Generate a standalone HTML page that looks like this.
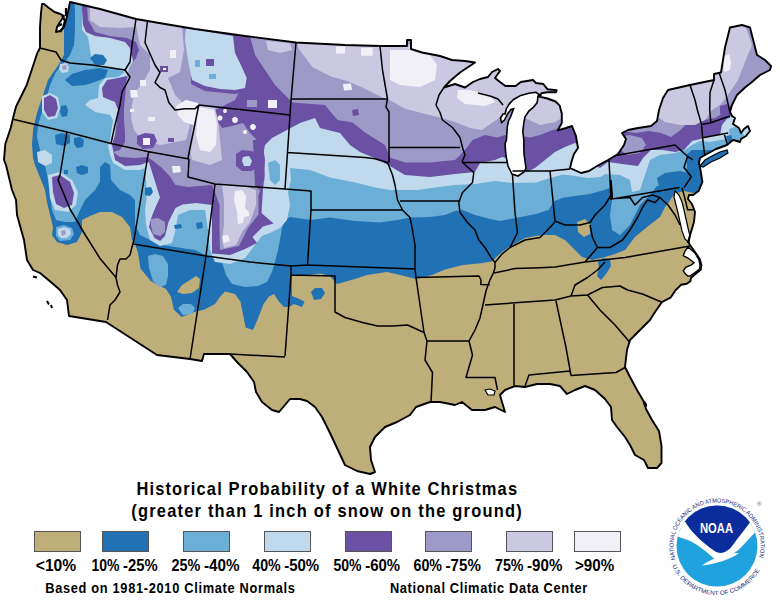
<!DOCTYPE html>
<html><head><meta charset="utf-8"><title>White Christmas</title>
<style>
html,body{margin:0;padding:0;background:#fff;}
body{width:780px;height:600px;overflow:hidden;}
svg{display:block;}
text{font-family:"Liberation Sans",Arial,sans-serif;font-weight:bold;fill:#000;}
.t1{font-size:17.7px;}
.lg{font-size:16.2px;}
.ft{font-size:13.8px;}
.noaa{font-size:14px;fill:#fff;font-family:"Liberation Sans",sans-serif;}
.ring{font-size:6px;fill:#1a2a80;font-weight:normal;}
.reg{font-size:6px;fill:#555;font-weight:normal;}
</style></head>
<body>
<svg width="780" height="600" viewBox="0 0 780 600">
<rect width="780" height="600" fill="#fff"/>
<clipPath id="us"><path d="M42,4 L44,4 L49,8 L54.5,12 L60.5,14 L64,16 L60,22 L57,27 L56,32 L60,31 L64,27 L66,20 L68,12 L70,2 L100,9 L136,19 L165,24 L195,29 L245,36 L296,42.5 L345,45 L380,46 L407,46 L407,40 L411,40 L411,49 L422,52.5 L440,56 L452,60 L465,61 L475,62.5 L460,72.5 L450,81 L444,87.5 L455,84 L465,87.5 L473,82 L480,79 L488,77 L492,72 L498,69 L500,71 L495,78 L500,82 L505.4,86 L515.6,86 L520.8,82 L533,80 L536,83 L543.3,84 L547.4,89.2 L556.7,90.3 L556,92.3 L547.4,92.3 L541.3,93.3 L540.3,95.4 L538.2,96.4 L547.4,98.5 L555.6,101.5 L559.7,105.6 L561.8,113.8 L561.8,123 L557.7,130.3 L566,128 L572,126 L576,136 L578,148 L574,154 L572,160 L570,168 L581,173 L589,171 L597,166 L608,160 L618,154 L624,145 L626,139 L622,133 L628,130 L638,128 L651,126 L657,121 L659,110 L663,98 L668,90 L690,85 L714,80 L714,74 L721,72.5 L725,47.5 L730,27.5 L742,25 L750,27.5 L757,55 L765,60 L771,66 L770,70 L760,75 L752,82 L745,87.5 L737,95 L732,105 L730,112 L732,116 L735,118 L733,124 L739,128 L741,133 L744,129 L748,126 L750,131 L746,136 L741,139 L740,142 L737,141 L733,140 L727,145 L716,149 L705,155 L700,158 L699,163 L700.5,170 L702.4,182 L698.7,191 L693,195 L689,195 L688,199 L692,204 L695,212 L694,222 L691,232 L688,242 L690,245 L695,252 L699.7,259 L701.4,265 L700.8,269.7 L695,274.3 L691,278 L690.3,281.3 L686.8,283.7 L681,284.8 L675.2,290.7 L670.5,297.7 L662,302 L655,312 L650,320 L640,330 L630,340 L627,350 L625,367 L630,377 L637,390 L644,402 L646,409 L652,420 L659,431 L661.5,446 L661.5,463 L657,468 L648,468 L644,460 L635,455 L630,445 L625,437 L617,427 L612,420 L611,407 L605,399 L595,390 L585,386 L575,390 L567,394 L560,386 L550,384 L537,384 L525,387 L515,386 L505,390 L500,395 L502,402 L505,412 L495,407 L485,410 L472,410 L462,402 L455,405 L440,402 L430,402 L416,407 L410,415 L397,422 L385,427 L375,437 L370,447 L371,460 L375,472 L370,474 L357,471 L345,465 L337,448 L330,433 L322,417 L315,407 L307,401 L300,399 L290,399 L285,405 L279,412 L272,410 L262,402 L256,392 L254,382 L247,372 L237,362 L230,354 L204,354 L202,361 L190,359 L157,355 L106,322 L69,316 L67,300 L60,290 L52,283 L40,273 L33,270 L27,260 L24,240 L17,215 L16,200 L12,190 L6,165 L4,160 L5.3,144 L10.7,128 L13.3,117 L16,106.7 L21.3,96 L26.7,85 L32,69 L37.3,53 L40,48 L40,26.7 L41,13Z"/></clipPath>
<path d="M42,4 L44,4 L49,8 L54.5,12 L60.5,14 L64,16 L60,22 L57,27 L56,32 L60,31 L64,27 L66,20 L68,12 L70,2 L100,9 L136,19 L165,24 L195,29 L245,36 L296,42.5 L345,45 L380,46 L407,46 L407,40 L411,40 L411,49 L422,52.5 L440,56 L452,60 L465,61 L475,62.5 L460,72.5 L450,81 L444,87.5 L455,84 L465,87.5 L473,82 L480,79 L488,77 L492,72 L498,69 L500,71 L495,78 L500,82 L505.4,86 L515.6,86 L520.8,82 L533,80 L536,83 L543.3,84 L547.4,89.2 L556.7,90.3 L556,92.3 L547.4,92.3 L541.3,93.3 L540.3,95.4 L538.2,96.4 L547.4,98.5 L555.6,101.5 L559.7,105.6 L561.8,113.8 L561.8,123 L557.7,130.3 L566,128 L572,126 L576,136 L578,148 L574,154 L572,160 L570,168 L581,173 L589,171 L597,166 L608,160 L618,154 L624,145 L626,139 L622,133 L628,130 L638,128 L651,126 L657,121 L659,110 L663,98 L668,90 L690,85 L714,80 L714,74 L721,72.5 L725,47.5 L730,27.5 L742,25 L750,27.5 L757,55 L765,60 L771,66 L770,70 L760,75 L752,82 L745,87.5 L737,95 L732,105 L730,112 L732,116 L735,118 L733,124 L739,128 L741,133 L744,129 L748,126 L750,131 L746,136 L741,139 L740,142 L737,141 L733,140 L727,145 L716,149 L705,155 L700,158 L699,163 L700.5,170 L702.4,182 L698.7,191 L693,195 L689,195 L688,199 L692,204 L695,212 L694,222 L691,232 L688,242 L690,245 L695,252 L699.7,259 L701.4,265 L700.8,269.7 L695,274.3 L691,278 L690.3,281.3 L686.8,283.7 L681,284.8 L675.2,290.7 L670.5,297.7 L662,302 L655,312 L650,320 L640,330 L630,340 L627,350 L625,367 L630,377 L637,390 L644,402 L646,409 L652,420 L659,431 L661.5,446 L661.5,463 L657,468 L648,468 L644,460 L635,455 L630,445 L625,437 L617,427 L612,420 L611,407 L605,399 L595,390 L585,386 L575,390 L567,394 L560,386 L550,384 L537,384 L525,387 L515,386 L505,390 L500,395 L502,402 L505,412 L495,407 L485,410 L472,410 L462,402 L455,405 L440,402 L430,402 L416,407 L410,415 L397,422 L385,427 L375,437 L370,447 L371,460 L375,472 L370,474 L357,471 L345,465 L337,448 L330,433 L322,417 L315,407 L307,401 L300,399 L290,399 L285,405 L279,412 L272,410 L262,402 L256,392 L254,382 L247,372 L237,362 L230,354 L204,354 L202,361 L190,359 L157,355 L106,322 L69,316 L67,300 L60,290 L52,283 L40,273 L33,270 L27,260 L24,240 L17,215 L16,200 L12,190 L6,165 L4,160 L5.3,144 L10.7,128 L13.3,117 L16,106.7 L21.3,96 L26.7,85 L32,69 L37.3,53 L40,48 L40,26.7 L41,13Z" fill="#BEAE7A"/>
<g clip-path="url(#us)">
<path d="M62,0 L64,10 L64,25 L64,40 L64,55 L59,64 L48,80 L42.7,96 L37.3,112 L33.3,128 L32,144 L33,158 L35,165 L45,190 L47,202 L50,215 L53,227 L52,235 L57,242 L67,245 L77,242 L82,232 L82,220 L90,216 L100,212 L112,212 L122,217 L130,227 L132,240 L135,244 L138,253 L140.5,268.5 L150.8,281 L166,289 L171,296.7 L173.8,309.5 L181.5,317 L194.4,312 L204.6,309.5 L215,304 L220,296.7 L225,291.5 L235,294 L240.5,301.8 L243,314.6 L245.6,327.4 L253,330 L258.5,317 L263.6,304 L268.7,296.7 L274,294 L279,301.8 L284,307 L289,307 L294,304 L302,307 L304.6,301.8 L299.5,299 L292,296 L291.8,276 L299.5,276 L320,273.6 L330,276 L337,284 L355,279 L367,275 L387,272 L400,275 L416,279 L432,275 L445,269.5 L462.8,265 L480.8,263.2 L491.6,261.4 L500.5,253.3 L507.7,248 L516.7,242.6 L525,238 L535,236 L545,235 L555,235 L565,240 L572,247 L582,257 L592,260 L605,257 L615,254 L625,250 L635,237 L647,227 L660,217 L665,207 L669,202 L672,197 L677,193 L684,191 L693,193 L700,192 L780,192 L780,0Z" fill="#2171B5"/>
<path d="M74,0 L75,10 L75,30 L74,45 L70,55 L64,63 L56,72 L50,85 L46,100 L42,112 L38,125 L37,137 L40,150 L45,165 L48,180 L50,195 L52,210 L56,220 L65,222 L75,222 L80,210 L85,200 L95,190 L100,182 L100,167 L105,162 L110,165 L111,180 L120,190 L130,195 L135,200 L135,225 L140,235 L150,240 L162,245 L175,247 L195,250 L205,255 L212,258 L222,262 L226,275 L232,284 L245,287 L258,286 L267,282 L272,272 L275,262 L278,250 L280,240 L282,228 L285,220 L290,217 L311,220 L330,217.5 L355,221 L380,222.5 L397.5,220 L410,217.5 L430,217 L445,215 L455,211 L462.5,210 L475,215 L490,219 L500,221 L518,217.5 L536,214 L548.5,210 L554,201.3 L563,197.7 L575.4,196 L589.8,194 L602.3,190.5 L610,188 L612,200 L610,215 L612,230 L620,235 L630,225 L640,205 L650,195 L657,186 L675,183 L686,180 L687,165 L686,155 L692,150 L780,150 L780,0Z" fill="#6BAED6"/>
<path d="M82,0 L82,30 L88,37 L90,50 L92,62 L100,66 L115,68 L125,72 L118,77 L105,78 L99,85 L98,98 L90,100 L85,105 L95,112 L110,115 L113,120 L110,140 L108,146 L110,155 L113,163 L125,170 L140,170 L145,168 L146,180 L147,195 L145,210 L146,225 L150,240 L160,246 L172,243 L175,232 L178,215 L190,210 L205,210 L208,230 L210,250 L215,262 L230,264 L245,258 L255,245 L262,236 L272,232 L280,228 L287,220 L290,205 L288,192 L291,180 L290,168 L310,170 L330,177.5 L355,182.5 L375,187.5 L390,190 L417.5,190 L435,187.5 L455,185 L475,184 L495,181 L512.5,183 L536,182.4 L550,178 L563,174.4 L575,176 L588,178 L600.5,177 L605,174 L620,175 L630,180 L632,192 L640,190 L645,175 L650,160 L660,155 L675,153 L685,150 L692,145 L700,141 L710,142 L720,140 L735,138 L780,135 L780,0Z" fill="#C0D9EC"/>
<path d="M82,0 L780,0 L780,100 L735,105 L730,115 L722,125 L720,135 L710,136 L700,139 L692,141 L684,150 L675,152 L663,150 L651,150 L643,158 L638,166 L622,164 L608,162 L600,168 L585,160 L578,145 L575,143 L565,147 L555,152 L545,160 L535,168 L527,172 L515,160 L502,157 L495,160 L480,163 L475,172 L455,174 L430,177 L405,175 L388,165 L372,157 L360,152 L350,145 L340,133 L320,128 L315,118 L300,123 L287,130 L272,138 L265,145 L262,160 L265,175 L263,188 L261.5,213 L273.5,223.5 L263,226.5 L252.5,237 L257,243 L245,249 L230,255 L212,253.5 L212,230 L212,205 L196.5,203 L182.5,204.5 L175.5,208 L172,215 L168.5,222 L165,236 L160,241 L154.5,238 L149,227 L151,218.5 L156,206 L160,197.5 L154.5,180 L149,162.5 L148,162 L140,165 L125,166 L115,160 L112,145 L115,135 L117,120 L118,110 L115,102 L110,100 L103,97 L102,88 L107,80 L118,78 L127,76 L132,70 L133,60 L130,48 L125,42 L110,38 L95,36 L86,32 L83,25 L82,10Z" fill="#6A51A3"/>
<path d="M87,5 L88,20 L95,32 L110,36 L127,38 L136,42 L139,50 L136,58 L130,66 L127,76 L126,86 L125,98 L124,108 L124,120 L125,132 L125,142 L120,150 L113,152 L120,157 L135,158 L147,157 L152,160 L162,168 L170,176.5 L175.5,185 L188,187 L212,185 L216,195 L219.5,205 L219.5,230 L220,250 L239,246 L248,228 L258.5,214.5 L258.5,195 L262,185 L265,178 L263,160 L262,145 L256,139 L250,133 L243,123 L232,126 L222,128 L215,118 L215,110 L225,105 L235,100 L240,90 L243,70 L236,50 L233,35 L225,32 L200,28 L165,22 L136,17 L110,10Z" fill="#9E9AC8"/>
<path d="M250,36 L255,55 L265,70 L275,85 L285,95 L292.5,102.5 L325,105 L337.5,120 L352.5,122.5 L365,132.5 L385,145 L390,157.5 L405,162.5 L430,162.5 L455,160 L465,150 L472.5,140 L485,135 L497.5,137.5 L505,135 L515,135 L530,137.5 L540,135 L552.5,130 L565,127.5 L575,125 L600,125 L622,131 L636,133 L648.7,131 L661,133 L671,137 L679.5,131 L687.7,122.8 L700,120.8 L715,118 L725,112 L735,100 L750,88 L780,80 L780,0 L250,0Z" fill="#9E9AC8"/>
<path d="M618,137 L630,135 L642,138 L646,145 L640,153 L628,155 L620,150Z" fill="#9E9AC8"/>
<path d="M90,7 L90,20 L100,27 L120,28 L135,27 L136,19 L110,10Z" fill="#CBC9E2"/>
<path d="M135,20 L182,26 L184,50 L180,72 L168,78 L175,95 L185,105 L190,125 L186,140 L160,145 L142,140 L134,130 L131,118 L132,105 L135,92 L142,84 L150,70 L150,55 L140,45Z" fill="#CBC9E2"/>
<path d="M190,150 L192,160 L210,165 L222,160 L220,140 L218,120 L215,108 L199,105 L195,115 L192,130Z" fill="#CBC9E2"/>
<path d="M222,185 L224,200 L224,225 L222,240 L224,248 L236,245 L242,232 L250,222 L256,205 L256,190 L240,185Z" fill="#CBC9E2"/>
<path d="M296,40 L298.8,48.8 L312.7,67.3 L331,76.5 L347.3,81 L363.5,88 L382,97.3 L388.8,99.6 L405,108.8 L423.5,113.5 L442,118 L455,122 L470,128 L482,130 L493,122 L501,117 L512,108 L525,118 L540,125 L555,122 L562,118 L565,100 L560,80 L480,62 L475,50 L420,45Z" fill="#CBC9E2"/>
<path d="M657,100 L655,115 L665,122 L680,125 L695,125 L705,120 L712,110 L720,105 L728,95 L738,80 L745,62 L752,45 L745,25 L730,25 L715,75 L690,85 L668,90Z" fill="#CBC9E2"/>
<path d="M199,107 L214,110 L217,125 L216,145 L210,152 L200,150 L196,135 L197,118Z" fill="#F2F0F7"/>
<path d="M235,191 L242,190 L246,196 L245,208 L249,212 L249,216 L244,217 L243,223 L238,224 L237,212 L234,200Z" fill="#F2F0F7"/>
<path d="M222,236 L228,235 L230,241 L224,243Z" fill="#F2F0F7"/>
<path d="M390,50 L410,50 L430,55 L437,65 L435,80 L420,87 L400,85 L390,80Z" fill="#F2F0F7"/>
<path d="M458,90 L470,90 L490,95 L495,102 L485,106 L465,104 L457,98Z" fill="#F2F0F7"/>
<path d="M723,57 L729,54 L731,62 L730,70 L724,72Z" fill="#F2F0F7"/>
<path d="M336,46.5 L345,46.5 L345,53.5 L336,53.5Z" fill="#F2F0F7"/>
<path d="M361,47.7 L372.7,47.7 L372.7,55.8 L361,55.8Z" fill="#F2F0F7"/>
<path d="M343,84 L351,83.5 L352,90 L344,90.4Z" fill="#F2F0F7"/>
<path d="M65,80 L72,74 L85,70 L100,68 L108,70 L105,78 L95,82 L85,85 L72,86Z" fill="#2171B5"/>
<path d="M90,58 L95,54 L103,55 L107,60 L104,65 L95,65Z" fill="#2171B5"/>
<path d="M148,256 L155,254 L163,256 L168,264 L168,276 L166,285 L160,287 L153,281 L149,268Z" fill="#6BAED6"/>
<path d="M37,152 L45,150 L52,155 L52,163 L45,166 L38,162Z" fill="#C0D9EC"/>
<path d="M48,175 L60,172 L72,180 L78,192 L76,205 L68,212 L55,210 L50,198Z" fill="#C0D9EC"/>
<path d="M52,177 L60,175 L70,182 L74,193 L72,205 L64,208 L56,204 L53,192Z" fill="#6A51A3"/>
<path d="M42,96 L50,93 L58,97 L60,108 L57,118 L48,120 L42,112Z" fill="#C0D9EC"/>
<path d="M44,98 L50,95 L56,99 L58,108 L55,116 L48,117 L44,110Z" fill="#6A51A3"/>
<path d="M56,227 L64,225 L72,228 L74,234 L70,240 L60,241 L56,236Z" fill="#6BAED6"/>
<path d="M58,229 L64,227 L70,229 L71,234 L67,238 L61,238 L58,235Z" fill="#C0D9EC"/>
<path d="M61,231 L65,230 L66,234 L62,236Z" fill="#9E9AC8"/>
<path d="M180,28 L191,28 L191,84 L205,91 L235,94 L249,91 L250,76 L244,62 L238,50 L237,35Z" fill="#6A51A3"/>
<path d="M186,28 L233,36 L235,53 L241.7,66.7 L246.7,78 L245,88 L235,90 L220,89 L205,86 L192,80 L188,60 L185,40Z" fill="#C0D9EC"/>
<path d="M577,222 L585,219 L590,224 L590,234 L584,237 L578,232Z" fill="#BEAE7A"/>
<path d="M177,292 L182,285 L190,280 L196,276 L200,279 L199,288 L192,293 L183,294Z" fill="#BEAE7A"/>
<path d="M178,308 L183,304 L191,304 L195,308 L192,314 L183,315Z" fill="#6BAED6"/>
<path d="M311,292 L315,288 L322,288 L325,293 L321,299 L314,300Z" fill="#2171B5"/>
<path d="M268,163 L275,160 L280,165 L280,180 L275,185 L270,180Z" fill="#6BAED6"/>
<path d="M352,110 L358,109 L359,115 L353,116Z" fill="#6A51A3"/>
<path d="M266,41 L290,43 L292,50 L280,53 L268,50Z" fill="#CBC9E2"/>
<path d="M729,129 L735,127 L742,131 L744,136 L738,140 L730,138Z" fill="#6BAED6"/>
<path d="M726,136 L731,135 L733,141 L728,143Z" fill="#2171B5"/>
<path d="M720,106 L727,104 L731,110 L730,118 L724,119 L720,113Z" fill="#6A51A3"/>
<path d="M61,106 L66,105 L68,110 L67,116 L62,117 L60,112Z" fill="#2171B5"/>
<path d="M60,64 L66,63 L69,67 L68,72 L62,73 L59,69Z" fill="#C0D9EC"/>
<path d="M62,66 L66,65 L67,69 L63,70Z" fill="#9E9AC8"/>
<path d="M76,167 L82,165 L88,167 L88,173 L82,175 L77,173Z" fill="#2171B5"/>
<path d="M64,170 L68,170 L68,174 L64,174Z" fill="#2171B5"/>
<path d="M55,135 L62,133 L70,135 L70,143 L64,146 L56,144Z" fill="#2171B5"/>
<path d="M74,138 L80,137 L84,140 L83,147 L77,148 L74,144Z" fill="#2171B5"/>
<path d="M151,219 L158,218 L165,222 L165,232 L160,236 L153,234 L151,226Z" fill="#9E9AC8"/>
<path d="M145,188 L151,187 L153,192 L150,196 L145,195Z" fill="#2171B5"/>
<path d="M174,225 L181,224 L182,228 L175,229Z" fill="#2171B5"/>
<path d="M196,223 L202,222 L203,228 L197,229Z" fill="#2171B5"/>
<path d="M172,166 L180,166 L181,172 L173,173Z" fill="#F2F0F7"/>
<path d="M253,140 L262,139 L265,160 L264,180 L260,190 L255,186 L254,165Z" fill="#6A51A3"/>
<path d="M222.5,118 L222,119.5 L220.8,120.4 L219.2,120.4 L218,119.5 L217.5,118 L218,116.5 L219.2,115.6 L220.8,115.6 L222,116.5Z" fill="#F2F0F7"/>
<path d="M238,120 L237.4,121.8 L235.9,122.9 L234.1,122.9 L232.6,121.8 L232,120 L232.6,118.2 L234.1,117.1 L235.9,117.1 L237.4,118.2Z" fill="#F2F0F7"/>
<path d="M256,127 L255.4,128.8 L253.9,129.9 L252.1,129.9 L250.6,128.8 L250,127 L250.6,125.2 L252.1,124.1 L253.9,124.1 L255.4,125.2Z" fill="#F2F0F7"/>
<path d="M247,132 L246.6,133.2 L245.6,133.9 L244.4,133.9 L243.4,133.2 L243,132 L243.4,130.8 L244.4,130.1 L245.6,130.1 L246.6,130.8Z" fill="#F2F0F7"/>
<path d="M227,111 L226.6,112.2 L225.6,112.9 L224.4,112.9 L223.4,112.2 L223,111 L223.4,109.8 L224.4,109.1 L225.6,109.1 L226.6,109.8Z" fill="#F2F0F7"/>
<path d="M268,100 L277,100 L277,108 L268,108Z" fill="#F2F0F7"/>
<path d="M247,100 L257,100 L257,107 L247,107Z" fill="#9E9AC8"/>
<path d="M176,106 L186,100 L198,103 L199,118 L193,125 L184,122 L178,115Z" fill="#F2F0F7"/>
<path d="M130,90 L137,90 L138,97 L131,98Z" fill="#F2F0F7"/>
<path d="M140,80 L146,80 L146,86 L140,86Z" fill="#F2F0F7"/>
<path d="M148,117 L155,117 L155,121 L148,121Z" fill="#F2F0F7"/>
<path d="M130,109 L134,109 L134,112 L130,112Z" fill="#F2F0F7"/>
<path d="M170,50 L176,50 L176,58 L170,58Z" fill="#F2F0F7"/>
<path d="M137,136 L145,133 L154,134 L157,141 L153,148 L143,149 L137,144Z" fill="#6A51A3"/>
<path d="M143,138 L150,138 L150,145 L143,145Z" fill="#F2F0F7"/>
<path d="M168,138 L174,138 L174,142 L168,142Z" fill="#6A51A3"/>
<path d="M160,66 L168,66 L168,72 L160,72Z" fill="#6A51A3"/>
<path d="M163,68 L166,68 L166,70 L163,70Z" fill="#F2F0F7"/>
<path d="M657,178 L665,173 L680,171 L688,173 L688,188 L675,190 L660,190Z" fill="#2171B5"/>
<path d="M195,60 L200,60 L200,67 L195,67Z" fill="#6BAED6"/>
<path d="M206,59 L214,59 L214,66 L206,66Z" fill="#6A51A3"/>
<path d="M209,74 L216,74 L216,79 L209,79Z" fill="#6BAED6"/>
<path d="M236,154 L242,150 L252,151 L258,157 L258,166 L252,171 L242,171 L236,166Z" fill="#6A51A3"/>
<path d="M243,157 L249,156 L252,161 L250,166 L244,166 L242,161Z" fill="#C0D9EC"/>
<path d="M598,262 L603,258 L610,259 L611,266 L606,274 L601,280 L597,276 L599,268Z" fill="#2171B5"/>
<path d="M308,262 L311,262 L311,268 L308,268Z" fill="#2171B5"/>
</g>
<path d="M62,15 L65,21 L63,28 L60,32 M66,8 L66,16 M58,26 L62,24" fill="none" stroke="#000" stroke-width="2.2"/>
<path d="M675,191 L679,195 L682,202 L684,210 L686,219 L688,228 L690,236 L689,243 L685,239 L682,231 L680,222 L678,213 L676,205 L674,197Z" fill="#fff" stroke="#000" stroke-width="1.2"/>
<path d="M700,166 L705,160 L712,156 L720,152 L727,150 L728,153 L720,158 L711,162 L703,167Z" fill="#2171B5" stroke="#000" stroke-width="1.2"/>
<path d="M505,114 L506.4,108.7 L509.5,103.6 L513.6,99.5 L520.8,95.4 L529,93.3 L536,92.3 L540.3,95.4 L538,96.4 L537.2,102.6 L533,107.7 L529,110.8 L524.9,117 L523.8,123 L522.8,131.3 L523.8,140 L524,154 L526,168 L524,172 L518,176 L512,174 L508,166 L506,156 L505,144 L506.4,140 L507.4,126 L508.5,121 L510.5,117 L513.6,108.7 L511,109.5 L507.5,114 L504.5,120 L501.5,122.5 L500.5,118 L503,114Z" fill="#fff" stroke="#000" stroke-width="1.6"/>
<path d="M485,390 L490,389 L495,391 L494,395 L488,395Z" fill="#fff" stroke="#000" stroke-width="1.2"/>
<path d="M688,247 L695,253 L699,260 L700,265 L699.5,269 L695,272.5 L690,276 L688,276 L685.7,274.3 L683.3,270.8 L685.7,267.3 L691.5,265 L694,262.7 L688,258 L683.3,255.7 L685,251Z" fill="#fff" stroke="#000" stroke-width="1.4"/>
<ellipse cx="645" cy="404" rx="1.6" ry="3.2" fill="#000" transform="rotate(-25 645 404)"/>
<path d="M33,276.5 L37,277.5 M47,301 L49,304.5 M51,305 L52,308" stroke="#000" stroke-width="2" fill="none"/>
<path d="M40,48 L48,50 L56,52 L61,60 L70,63 L92,65 L125,70 M136,19 L132,45 L130,62 L125,70 M125,70 L130,77 L127,83 L122,92 L120,105 L115,125 L111,143.5 M14,119.5 L67,132 L111,143.5 L147.5,151.5 L189,159 M67,132 L60,175 L58,180 L70,209 L85,234.5 L100,258.5 L116,277.5 M116,277.5 L117.5,285 L120,292 L115,300 L110,305 L107.5,320 M116,277.5 L117.5,265 L120,259 L126,259 L130,255 L132.5,245 L134,240 M148.5,152 L134,240 M133,244 L206,256 M147.5,20 L145,42.5 L155,65 L160,72.5 L155,82.5 L160,87.5 L165,90 L168.8,102.5 L175,110 L185,108.8 L195,108.8 L198.8,105 M198.8,105 L188,158 M198.8,105 L290,115 M189,159 L188,177 L215,184 M215,184 L285,189 M296,42.5 L291,100 L290,115 L287.5,152.5 L285,189 M291,99 L387.5,99 M380,46 L382.5,70 L387.5,99 L386,107 L389,112 L389,162.5 M287.5,152.5 L365,157.5 L375,158.8 L387.5,162.5 M387.5,162.5 L392.5,175 L395,185 L397.5,200 L402.5,210 L410,217.5 L412.5,230 L415,245 L415,269 M311,210 L402.5,210 M285,189 L311,191 L311,210 L307.5,265 M215,184 L206,256 M206,256 L250,262 L291,266 L307.5,265 L415,269 M206,256 L190,359 M291,266 L291,275 L285,356 M230,354 L285,357 M291,275 L335,276 L335,312 L345,317.5 L362.5,322.5 L377.5,326 L392.5,326 L407.5,325 L424,332.5 M415,269 L416,277.5 L424,332.5 L427,341 M427,341 L469,341 M427,341 L425,360 L432.5,372.5 L431,402.5 M469,341 L472.5,355 L466,377.5 L495,377.5 L497.5,390 M484,300 L480,318 L475,330 L469,341 M416,277.5 L479,276 L481,280 L480.8,284.5 L489.8,284.8 M485,305 L555,300 L571,296 L587.5,295 M514,303 L514,385 M556,301 L566,347.5 L571,375.5 M525,386 L529,375 L570,371 L571,375.5 L616,372.5 L625,367.5 M587.5,295 L600,310 L615,325 L630,342.5 M587.5,295 L602.5,287.5 L620,286 L627.5,290 L642.5,294 L662.5,302.5 M571,296 L575,285 L587.5,277.5 L597.5,270 L605,262 M494,273 L515,268.6 L540,267.7 L555,267 L585,262 L625,257.5 L690,246 M495,262.5 L495,267.7 L493.4,273 L489.8,280.3 L486,291 L484,300 M585,262 L597.5,247.5 M590,225 L592.5,237.5 L597.5,247.5 M597.5,247.5 L610,247.5 L622.5,240 L630,230 L637.5,217.5 L642.5,207.5 L647.5,200 L655,202.5 L660,197.5 M611,180 L612.5,198.8 L630,197.5 L635,205 L642.5,197.5 L652.5,195 L660,197.5 M614,198.7 L679.5,187.4 M687.7,155.6 L684,167.5 L691.4,176.7 L684,187.7 M682,188 L684,195 L687.7,209.7 L695,209.7 M660,197.5 L668,205 L675,215 L680,225 M616,155.6 L675,145 L686.7,155.6 L693,160 M690,85 L695,100 L697.4,110 L701.5,124.4 L702.6,137.7 L704.6,155 M714,80 L710,92.5 L709.7,110 L710.8,122.8 M719,72.5 L725,90 L730,112.5 M701.5,124.4 L710.8,122.8 L730,116 M702.6,137.7 L728.2,133.1 M724.1,133.6 L727.2,143.8 M550,171 L570,169 M512.5,171 L550,171 M550,171 L555,221 M609,160 L611,200 M555,221 L565,225 L580,225 L590,222.5 L595,215 L605,205 L611,195 M495,262.5 L502,254 L510,247.5 L525,240 L540,237.5 L547.5,230 L555,222 M512.5,175 L515,212.5 L517.5,232.5 L510,247.5 M462,162 L473.8,172.5 L472.5,182.5 L462.5,192.5 L458.8,202.5 L460,212.5 L467.5,222.5 L475,230 L478.8,240 L485,247.5 L491,257.5 L495,262.5 M462.5,162.5 L507.5,162.5 M400,201 L458.8,201 M389,147.5 L460,147.5 M444,87.5 L439,95 L436,105 L440,112.5 L442.5,120 L452.5,127.5 L460,137.5 L462.5,147.5 L465,155 L462,162 M478,93 L490,96 L498,99 L503,105" fill="none" stroke="#000" stroke-width="1.5" stroke-linejoin="round"/>
<path d="M42,4 L44,4 L49,8 L54.5,12 L60.5,14 L64,16 L60,22 L57,27 L56,32 L60,31 L64,27 L66,20 L68,12 L70,2 L100,9 L136,19 L165,24 L195,29 L245,36 L296,42.5 L345,45 L380,46 L407,46 L407,40 L411,40 L411,49 L422,52.5 L440,56 L452,60 L465,61 L475,62.5 L460,72.5 L450,81 L444,87.5 L455,84 L465,87.5 L473,82 L480,79 L488,77 L492,72 L498,69 L500,71 L495,78 L500,82 L505.4,86 L515.6,86 L520.8,82 L533,80 L536,83 L543.3,84 L547.4,89.2 L556.7,90.3 L556,92.3 L547.4,92.3 L541.3,93.3 L540.3,95.4 L538.2,96.4 L547.4,98.5 L555.6,101.5 L559.7,105.6 L561.8,113.8 L561.8,123 L557.7,130.3 L566,128 L572,126 L576,136 L578,148 L574,154 L572,160 L570,168 L581,173 L589,171 L597,166 L608,160 L618,154 L624,145 L626,139 L622,133 L628,130 L638,128 L651,126 L657,121 L659,110 L663,98 L668,90 L690,85 L714,80 L714,74 L721,72.5 L725,47.5 L730,27.5 L742,25 L750,27.5 L757,55 L765,60 L771,66 L770,70 L760,75 L752,82 L745,87.5 L737,95 L732,105 L730,112 L732,116 L735,118 L733,124 L739,128 L741,133 L744,129 L748,126 L750,131 L746,136 L741,139 L740,142 L737,141 L733,140 L727,145 L716,149 L705,155 L700,158 L699,163 L700.5,170 L702.4,182 L698.7,191 L693,195 L689,195 L688,199 L692,204 L695,212 L694,222 L691,232 L688,242 L690,245 L695,252 L699.7,259 L701.4,265 L700.8,269.7 L695,274.3 L691,278 L690.3,281.3 L686.8,283.7 L681,284.8 L675.2,290.7 L670.5,297.7 L662,302 L655,312 L650,320 L640,330 L630,340 L627,350 L625,367 L630,377 L637,390 L644,402 L646,409 L652,420 L659,431 L661.5,446 L661.5,463 L657,468 L648,468 L644,460 L635,455 L630,445 L625,437 L617,427 L612,420 L611,407 L605,399 L595,390 L585,386 L575,390 L567,394 L560,386 L550,384 L537,384 L525,387 L515,386 L505,390 L500,395 L502,402 L505,412 L495,407 L485,410 L472,410 L462,402 L455,405 L440,402 L430,402 L416,407 L410,415 L397,422 L385,427 L375,437 L370,447 L371,460 L375,472 L370,474 L357,471 L345,465 L337,448 L330,433 L322,417 L315,407 L307,401 L300,399 L290,399 L285,405 L279,412 L272,410 L262,402 L256,392 L254,382 L247,372 L237,362 L230,354 L204,354 L202,361 L190,359 L157,355 L106,322 L69,316 L67,300 L60,290 L52,283 L40,273 L33,270 L27,260 L24,240 L17,215 L16,200 L12,190 L6,165 L4,160 L5.3,144 L10.7,128 L13.3,117 L16,106.7 L21.3,96 L26.7,85 L32,69 L37.3,53 L40,48 L40,26.7 L41,13Z" fill="none" stroke="#000" stroke-width="1.9" stroke-linejoin="round"/>
<text x="146.77" y="495.5" class="t1" id="t1" transform="scale(0.93,1)" textLength="409.2" lengthAdjust="spacing">Historical Probability of a White Christmas</text>
<text x="141.18" y="517.3" class="t1" id="t2" transform="scale(0.93,1)" textLength="419.8" lengthAdjust="spacing">(greater than 1 inch of snow on the ground)</text>
<rect x="34.5" y="531.5" width="46" height="20" fill="#BEAE7A" stroke="#555" stroke-width="1"/>
<text x="35.8" y="570.5" class="lg" textLength="40.4" lengthAdjust="spacingAndGlyphs">&lt;10%</text>
<rect x="102.5" y="531.5" width="46" height="20" fill="#2171B5" stroke="#555" stroke-width="1"/>
<text x="91.5" y="570.5" class="lg" textLength="28.0" lengthAdjust="spacingAndGlyphs">10%</text>
<text x="123.1" y="570.5" class="lg" textLength="34.6" lengthAdjust="spacingAndGlyphs">-25%</text>
<rect x="183.5" y="531.5" width="46" height="20" fill="#6BAED6" stroke="#555" stroke-width="1"/>
<text x="171.5" y="570.5" class="lg" textLength="28.8" lengthAdjust="spacingAndGlyphs">25%</text>
<text x="204.0" y="570.5" class="lg" textLength="35.6" lengthAdjust="spacingAndGlyphs">-40%</text>
<rect x="264.5" y="531.5" width="46" height="20" fill="#C0D9EC" stroke="#555" stroke-width="1"/>
<text x="252.3" y="570.5" class="lg" textLength="28.3" lengthAdjust="spacingAndGlyphs">40%</text>
<text x="284.2" y="570.5" class="lg" textLength="35.0" lengthAdjust="spacingAndGlyphs">-50%</text>
<rect x="345.5" y="531.5" width="46" height="20" fill="#6A51A3" stroke="#555" stroke-width="1"/>
<text x="333.5" y="570.5" class="lg" textLength="28.1" lengthAdjust="spacingAndGlyphs">50%</text>
<text x="365.2" y="570.5" class="lg" textLength="34.8" lengthAdjust="spacingAndGlyphs">-60%</text>
<rect x="425.5" y="531.5" width="46" height="20" fill="#9E9AC8" stroke="#555" stroke-width="1"/>
<text x="413.5" y="570.5" class="lg" textLength="28.5" lengthAdjust="spacingAndGlyphs">60%</text>
<text x="445.6" y="570.5" class="lg" textLength="35.2" lengthAdjust="spacingAndGlyphs">-75%</text>
<rect x="506.5" y="531.5" width="46" height="20" fill="#CBC9E2" stroke="#555" stroke-width="1"/>
<text x="495.0" y="570.5" class="lg" textLength="28.5" lengthAdjust="spacingAndGlyphs">75%</text>
<text x="527.1" y="570.5" class="lg" textLength="35.2" lengthAdjust="spacingAndGlyphs">-90%</text>
<rect x="574.5" y="531.5" width="46" height="20" fill="#F2F0F7" stroke="#555" stroke-width="1"/>
<text x="575" y="570.5" class="lg" textLength="39.2" lengthAdjust="spacingAndGlyphs">&gt;90%</text>
<text x="48.60" y="592.6" class="ft" id="f1" transform="scale(0.93,1)" textLength="268.5" lengthAdjust="spacing">Based on 1981-2010 Climate Normals</text>
<text x="419.25" y="592.6" class="ft" id="f2" transform="scale(0.93,1)" textLength="212.3" lengthAdjust="spacing">National Climatic Data Center</text>

<defs>
 <clipPath id="lc"><circle cx="717" cy="546" r="40.5"/></clipPath>
 <path id="ringTop" d="M 675.6,559.4 A 43.5,43.5 0 1 1 758.4,559.4"/>
 <path id="ringBot" d="M 672.2,565.9 A 49,49 0 0 0 761.8,565.9"/>
</defs>
<g clip-path="url(#lc)">
 <rect x="670" y="500" width="95" height="95" fill="#1FA2DD"/>
 <path d="M670,500 L670,535 C682,537 692,541 700,547 C707,552 712,557 716,560 C724,561 730,556 737,551 C744,545 752,535 765,522 L765,500Z" fill="#fff"/>
 <path d="M684.7,520.9 C690,530 700,541 715,551.3 C720,554.5 727,553 732.3,545.8 C738,538 746,528 751.8,519.8 L765,500 L670,500 Z" fill="#0B2C9C"/>
 <path d="M702,565.5 C712,558 726,553.5 739,553 C731,559 718,563.5 702,565.5Z" fill="#fff"/>
</g>
<text x="700" y="533.2" class="noaa" textLength="33" lengthAdjust="spacingAndGlyphs">NOAA</text>
<text class="ring"><textPath href="#ringTop" textLength="161" lengthAdjust="spacingAndGlyphs">NATIONAL OCEANIC AND ATMOSPHERIC ADMINISTRATION</textPath></text>
<text class="ring"><textPath href="#ringBot" textLength="108" lengthAdjust="spacingAndGlyphs">U.S. DEPARTMENT OF COMMERCE</textPath></text>
<text x="757" y="506" class="reg">&#174;</text>

</svg>
</body></html>
